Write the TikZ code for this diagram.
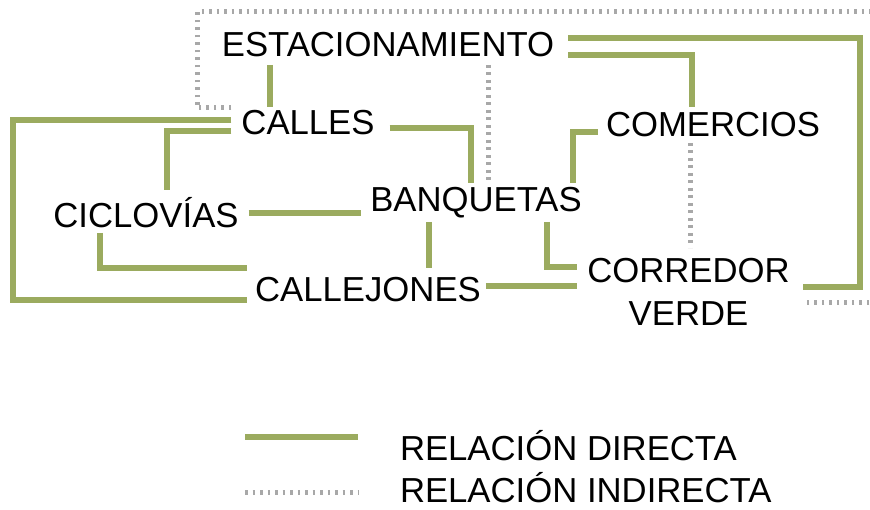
\documentclass[tikz,border=0pt]{standalone}
\usepackage{fontspec}
\setmainfont{Liberation Sans}
\usetikzlibrary{calc}
\definecolor{olivegreen}{RGB}{155,171,95}
\definecolor{dotgray}{RGB}{168,168,168}
\begin{document}
\begin{tikzpicture}[x=1pt,y=-1pt,
  lbl/.style={inner sep=0pt,outer sep=0pt,text height=25pt,text depth=0pt,anchor=base,
    font=\fontsize{34.7}{43}\selectfont},
  lbltwo/.style={inner sep=0pt,outer sep=0pt,align=center,anchor=north,
    font=\fontsize{34.7}{43}\selectfont},
  direct/.style={draw=olivegreen,line width=6pt,line cap=butt,line join=miter},
  indirect/.style={draw=dotgray,line width=5pt,line cap=butt,dash pattern=on 2.7pt off 4.8pt}]
\useasboundingbox (0,0) rectangle (870,510);
\clip (0,0) rectangle (870,510);

% nodes
\node[lbl] (esta) at (388,57) {ESTACIONAMIENTO};
\node[lbl] (calles) at (308,135) {CALLES};
\node[lbl] (ciclo) at (146,228) {CICLOVÍAS};
\node[lbl] (banq) at (476,212) {BANQUETAS};
\node[lbl] (comer) at (713,137) {COMERCIOS};
\node[lbl] (callej) at (368,302) {CALLEJONES};
\node[lbltwo] (corredor) at (688.5,258) {CORREDOR\\VERDE};

% direct relations
\draw[direct] ($(esta.south)+(-118,8)$) -- ($(calles.north)+(-38,-3)$);
\draw[direct] ($(esta.east)+(14,10.5)$) -| ($(comer.north)+(-21,-5)$);
\draw[direct] ($(esta.east)+(14,-6.5)$) -- (860,38) |- ($(corredor.north east)+(13,29)$);
\draw[direct] ($(calles.east)+(15,5.5)$) -| ($(banq.north)+(-5,-4)$);
\draw[direct] ($(calles.west)+(-10,-2.5)$) -- (13,120) |- ($(callej.west)+(-8,10.5)$);
\draw[direct] ($(calles.west)+(-10,8.5)$) -| ($(ciclo.north)+(21,-13)$);
\draw[direct] ($(ciclo.east)+(10,-2.5)$) -- ($(banq.west)+(-9,13.5)$);
\draw[direct] ($(ciclo.south)+(-46,5)$) |- ($(callej.west)+(-8,-21.5)$);
\draw[direct] ($(banq.south)+(-47,10)$) -- ($(callej.north)+(61,-9)$);
\draw[direct] ($(banq.south)+(71,10)$) |- ($(corredor.north west)+(-10,9)$);
\draw[direct] ($(callej.east)+(5,-3.5)$) -- ($(corredor.north west)+(-10,28)$);
\draw[direct] ($(banq.north)+(97,-4)$) |- ($(comer.west)+(-8,7.5)$);

% indirect relations
\draw[indirect] ($(calles.west)+(-10,-14.5)$) -- (197,108) -- (197,12) -- (885,12) -- (885,303) -- ($(corredor.north east)+(13,45)$);
\draw[indirect] ($(esta.south)+(100,8)$) -- ($(banq.north)+(12,-4)$);
\draw[indirect] ($(comer.south)+(-23,6)$) -- ($(corredor.north)+(1.5,-10)$);

% legend
\node[lbl,anchor=base west] (leg1) at (400,460) {RELACIÓN DIRECTA};
\node[lbl,anchor=base west] (leg2) at (400,502) {RELACIÓN INDIRECTA};
\coordinate (d1) at ($(leg1.west)+(-155,-10.5)$);
\coordinate (d2) at ($(leg1.west)+(-42,-10.5)$);
\coordinate (i1) at ($(leg2.west)+(-155,3)$);
\coordinate (i2) at ($(leg2.west)+(-42,3)$);
\draw[direct] (d1) -- (d2);
\draw[indirect] (i1) -- (i2);
\end{tikzpicture}
\end{document}
